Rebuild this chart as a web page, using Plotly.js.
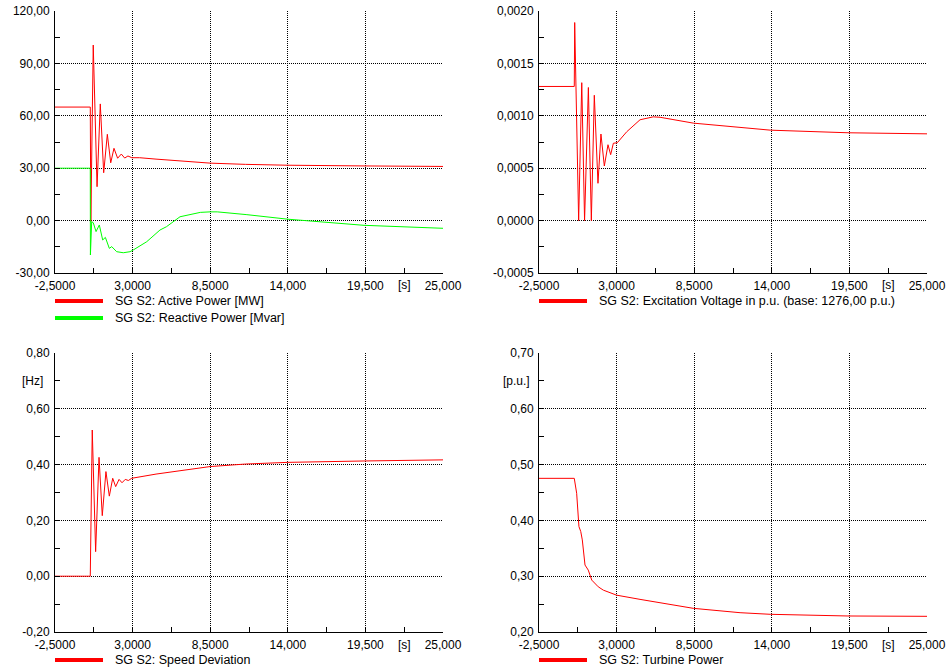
<!DOCTYPE html>
<html>
<head>
<meta charset="utf-8">
<script src="https://cdn.plot.ly/plotly-3.0.1.min.js"></script>
<style>html,body{margin:0;padding:0;background:#fff;}#chart{width:946px;height:670px;}</style>
</head>
<body>
<div id="chart"></div>
<script>
// ---------- data ----------
const T_ACTIVE = [-2.5, 0, 0.04, 0.21, 0.48, 0.71, 0.95, 1.21, 1.45, 1.68, 1.94, 2.20, 2.44, 2.67, 2.94, 3.5, 4.66, 6.36, 8.5, 11.0, 14.0, 19.4, 25.0];
const ACTIVE_MW = [65, 65, -0.5, 100.5, 19.4, 66.8, 27.4, 49.4, 33.1, 41.4, 35.7, 38.1, 35.8, 37.0, 36.0, 36.0, 35.2, 34.2, 32.9, 32.2, 31.7, 31.3, 31.0];

const T_REACTIVE = [-2.5, 0, 0.01, 0.1, 0.21, 0.41, 0.64, 0.88, 1.07, 1.35, 1.52, 1.87, 2.34, 2.82, 3.05, 4.0, 4.94, 5.4, 6.36, 7.8, 8.5, 9.0, 11.1, 14.0, 19.4, 25.0];
const REACTIVE_MVAR = [30, 30, -19.7, -0.6, -1.2, -6.3, -2.5, -11.1, -9.6, -15.9, -14.9, -17.8, -18.4, -17.8, -16.8, -12.1, -5.4, -3.5, 2.2, 4.7, 5.0, 5.0, 3.4, 0.8, -2.7, -4.4];

const T_EXC = [-2.5, 0, 0.03, 0.27, 0.31, 0.53, 0.69, 0.73, 1.0, 1.17, 1.21, 1.42, 1.68, 1.89, 2.13, 2.39, 2.58, 2.77, 3.05, 3.72, 4.66, 5.6, 6.08, 8.44, 11.75, 13.9, 19.4, 25.0];
const EXC_PU = [0.00128, 0.00128, 0.00189, 0, 0, 0.001316, 0, 0, 0.00127, 0, 0, 0.001196, 0.000356, 0.000826, 0.000521, 0.000724, 0.000629, 0.000738, 0.000743, 0.000848, 0.000962, 0.00099, 0.000986, 0.00093, 0.000886, 0.000863, 0.000838, 0.000828];

const T_SPEED = [-2.5, 0, 0.14, 0.38, 0.62, 0.85, 1.11, 1.35, 1.59, 1.80, 2.04, 2.25, 2.48, 2.70, 2.94, 4.66, 6.36, 8.5, 11.0, 14.0, 19.4, 25.0];
const SPEED_HZ = [0, 0, 0.524, 0.088, 0.426, 0.217, 0.375, 0.287, 0.351, 0.321, 0.347, 0.335, 0.347, 0.343, 0.351, 0.366, 0.378, 0.393, 0.402, 0.408, 0.413, 0.417];

const T_TURB = [-2.5, 0, 0.17, 0.33, 0.46, 0.57, 0.76, 0.99, 1.24, 1.47, 1.70, 2.06, 3.0, 4.66, 8.44, 11.75, 13.9, 19.4, 25.0];
const TURB_PU = [0.4754, 0.4754, 0.4486, 0.389, 0.380, 0.365, 0.320, 0.311, 0.293, 0.287, 0.281, 0.275, 0.266, 0.2585, 0.2424, 0.2346, 0.2317, 0.2287, 0.2281];

const X_TICKS = [-2.5, 3, 8.5, 14, 19.5, 25];
const X_TICK_TEXT = ["-2,5000", "3,0000", "8,5000", "14,000", "19,500", "25,000"];
const X_MINOR = [0.25, 5.75, 11.25, 16.75, 22.25];

const Y1_TICKS = [-30, 0, 30, 60, 90, 120];
const Y1_TEXT = ["-30,00", "0,00", "30,00", "60,00", "90,00", "120,00"];
const Y2_TICKS = [-0.0005, 0, 0.0005, 0.001, 0.0015, 0.002];
const Y2_TEXT = ["-0,0005", "0,0000", "0,0005", "0,0010", "0,0015", "0,0020"];
const Y3_TICKS = [-0.2, 0, 0.2, 0.4, 0.6, 0.8];
const Y3_TEXT = ["-0,20", "0,00", "0,20", "0,40", "0,60", "0,80"];
const Y4_TICKS = [0.2, 0.3, 0.4, 0.5, 0.6, 0.7];
const Y4_TEXT = ["0,20", "0,30", "0,40", "0,50", "0,60", "0,70"];

const LEGEND_TL = ["SG S2: Active Power [MW]", "SG S2: Reactive Power [Mvar]"];
const LEGEND_TR = ["SG S2: Excitation Voltage in p.u. (base: 1276,00 p.u.)"];
const LEGEND_BL = ["SG S2: Speed Deviation"];
const LEGEND_BR = ["SG S2: Turbine Power"];

// ---------- layout helpers ----------
const W = 946, H = 670;
const px = v => v / W;
const py = v => (H - v) / H;
const FONT = {family: "'Liberation Sans', Arial, sans-serif", size: 12, color: "#000"};
const LFONT = {family: "'Liberation Sans', Arial, sans-serif", size: 12.5, color: "#000"};
const RED = "#ff0000", GREEN = "#00ff00";
const GRIDDASH = "1px,1px";

function xAxis(l, r, anchor) {
  return {
    domain: [px(l), px(r)], anchor: anchor, range: [-2.5, 25],
    tickmode: "array", tickvals: X_TICKS, ticktext: X_TICK_TEXT,
    ticks: "inside", ticklen: 5, tickcolor: "#000",
    minor: {tickmode: "array", tickvals: X_MINOR, ticks: "inside", ticklen: 5, tickcolor: "#000", showgrid: false},
    showline: true, linecolor: "#000", linewidth: 1,
    showgrid: true, gridcolor: "#000", griddash: GRIDDASH, gridwidth: 1,
    zeroline: false, tickfont: FONT, fixedrange: true, ticklabelstandoff: 2
  };
}
function yAxis(t, b, anchor, range, vals, text) {
  const minor = [];
  for (let i = 0; i < vals.length - 1; i++) minor.push((vals[i] + vals[i + 1]) / 2);
  return {
    domain: [py(b), py(t)], anchor: anchor, range: range,
    tickmode: "array", tickvals: vals, ticktext: text,
    ticks: "inside", ticklen: 5, tickcolor: "#000",
    minor: {tickmode: "array", tickvals: minor, ticks: "inside", ticklen: 5, tickcolor: "#000", showgrid: false},
    showline: true, linecolor: "#000", linewidth: 1,
    showgrid: true, gridcolor: "#000", griddash: GRIDDASH, gridwidth: 1,
    zeroline: false, tickfont: FONT, fixedrange: true, ticklabelstandoff: 2
  };
}

const traces = [
  {x: T_ACTIVE, y: ACTIVE_MW, xaxis: "x", yaxis: "y", mode: "lines", line: {color: RED, width: 1}, name: LEGEND_TL[0]},
  {x: T_REACTIVE, y: REACTIVE_MVAR, xaxis: "x", yaxis: "y", mode: "lines", line: {color: GREEN, width: 1}, name: LEGEND_TL[1]},
  {x: T_EXC, y: EXC_PU, xaxis: "x2", yaxis: "y2", mode: "lines", line: {color: RED, width: 1}, name: LEGEND_TR[0]},
  {x: T_SPEED, y: SPEED_HZ, xaxis: "x3", yaxis: "y3", mode: "lines", line: {color: RED, width: 1}, name: LEGEND_BL[0]},
  {x: T_TURB, y: TURB_PU, xaxis: "x4", yaxis: "y4", mode: "lines", line: {color: RED, width: 1}, name: LEGEND_BR[0]}
];

// legend samples + labels
const shapes = [], annotations = [];
function legendItem(left, y, color, text) {
  shapes.push({type: "line", xref: "paper", yref: "paper", x0: px(left), x1: px(left + 48), y0: py(y), y1: py(y), line: {color: color, width: 4}});
  annotations.push({xref: "paper", yref: "paper", x: px(left + 58), y: py(y), xanchor: "left", yanchor: "middle", text: text, showarrow: false, font: LFONT});
}
legendItem(55, 301, RED, LEGEND_TL[0]);
legendItem(55, 318, GREEN, LEGEND_TL[1]);
legendItem(539, 301, RED, LEGEND_TR[0]);
legendItem(55, 660, RED, LEGEND_BL[0]);
legendItem(539, 660, RED, LEGEND_BR[0]);

function label(x, y, text) {
  annotations.push({xref: "paper", yref: "paper", x: px(x), y: py(y), xanchor: "center", yanchor: "middle", text: text, showarrow: false, font: FONT});
}
label(404, 285, "[s]");
label(888, 285, "[s]");
label(404, 645, "[s]");
label(888, 645, "[s]");
label(32, 381, "[Hz]");
label(516, 381, "[p.u.]");

const layout = {
  width: W, height: H, margin: {l: 0, r: 0, t: 0, b: 0},
  paper_bgcolor: "#fff", plot_bgcolor: "#fff", showlegend: false, font: FONT,
  xaxis: xAxis(55, 443, "y"),
  yaxis: yAxis(11, 273, "x", [-30, 120], Y1_TICKS, Y1_TEXT),
  xaxis2: xAxis(539, 927, "y2"),
  yaxis2: yAxis(11, 273, "x2", [-0.0005, 0.002], Y2_TICKS, Y2_TEXT),
  xaxis3: xAxis(55, 443, "y3"),
  yaxis3: yAxis(353, 632, "x3", [-0.2, 0.8], Y3_TICKS, Y3_TEXT),
  xaxis4: xAxis(539, 927, "y4"),
  yaxis4: yAxis(353, 632, "x4", [0.2, 0.7], Y4_TICKS, Y4_TEXT),
  shapes: shapes, annotations: annotations
};

Plotly.newPlot("chart", traces, layout, {displayModeBar: false, staticPlot: true});
</script>
</body>
</html>
